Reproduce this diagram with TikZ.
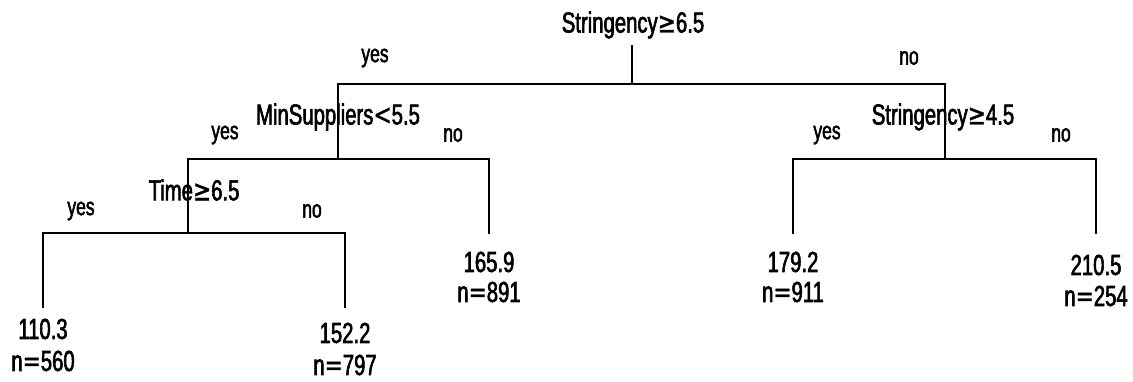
\documentclass[tikz,border=0pt]{standalone}
\usepackage{fontspec}
\setmainfont[FakeStretch=0.7,FakeBold=2]{Liberation Sans}
\newfontfamily\relfont[FakeStretch=0.75,FakeBold=1]{DejaVu Sans}
\newcommand{\gE}{{\relfont ≥}}
\newcommand{\lT}{{\relfont <}}
\newcommand{\eQ}{{\relfont =}}
\begin{document}
\begin{tikzpicture}[x=1pt,y=-1pt,
  branch/.style={line width=2.2pt,line cap=rect},
  lbl/.style={inner sep=0pt,font=\fontsize{29}{32}\selectfont},
  side/.style={inner sep=0pt,font=\fontsize{25}{27}\selectfont}]
\useasboundingbox (0,0) rectangle (1133,382);
% split labels
\node[lbl] (s1) at (633,25) {Stringency\gE6.5};
\node[lbl] (s2) at (338,117) {MinSuppliers\lT5.5};
\node[lbl] (s3) at (943,117) {Stringency\gE4.5};
\node[lbl] (s4) at (194,190) {Time\gE6.5};
% yes / no labels
\node[side] (y1) at (375,58) {yes};
\node[side] (n1) at (909,58) {no};
\node[side] (y2) at (225,135) {yes};
\node[side] (n2) at (453,135) {no};
\node[side] (y3) at (827,135) {yes};
\node[side] (n3) at (1061,135) {no};
\node[side] (y4) at (81,211) {yes};
\node[side] (n4) at (312,211) {no};
% leaves
\node[lbl] (v1) at (43,329) {110.3};
\node[lbl] (c1) at (43,361) {n\eQ560};
\node[lbl] (v2) at (345,333) {152.2};
\node[lbl] (c2) at (345,365) {n\eQ797};
\node[lbl] (v3) at (489,262) {165.9};
\node[lbl] (c3) at (489,292) {n\eQ891};
\node[lbl] (v4) at (793,262) {179.2};
\node[lbl] (c4) at (793,292) {n\eQ911};
\node[lbl] (v5) at (1096,265) {210.5};
\node[lbl] (c5) at (1096,296) {n\eQ254};
% branch points
\coordinate (rt) at (632,46);
\coordinate (rj) at (632,84);
\coordinate (lj) at (338,159);
\coordinate (rjj) at (945,159);
\coordinate (tj) at (188,233);
\coordinate (e1) at (43,307);
\coordinate (e2) at (345,307);
\coordinate (e3) at (489,233);
\coordinate (e4) at (793,233);
\coordinate (e5) at (1096,233);
% tree
\draw[branch] (rt) -- (rj);
\draw[branch] (lj) |- (rj) -| (rjj);
\draw[branch] (tj) |- (lj) -| (e3);
\draw[branch] (e4) |- (rjj) -| (e5);
\draw[branch] (e1) |- (tj) -| (e2);
\end{tikzpicture}
\end{document}
